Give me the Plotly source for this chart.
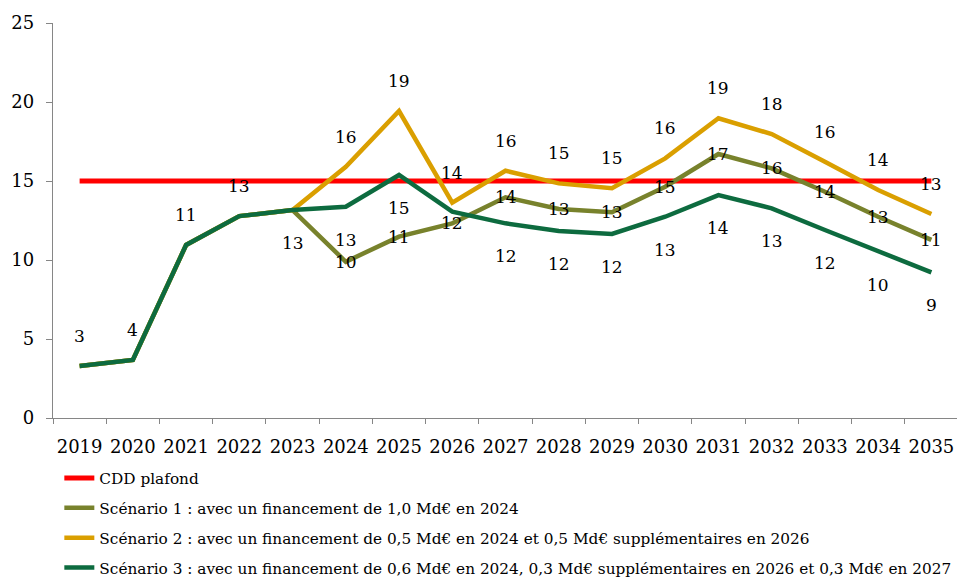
import plotly.graph_objects as go

years = [str(y) for y in range(2019, 2036)]
plafond = [15] * 17
scen1 = [3.29, 3.67, 10.95, 12.78, 13.16, 9.89, 11.48, 12.32, 13.97, 13.23, 13.02, 14.64, 16.71, 15.80, 14.32, 12.74, 11.27]
scen2 = [3.29, 3.67, 10.95, 12.78, 13.16, 15.90, 19.43, 13.63, 15.65, 14.85, 14.54, 16.43, 18.97, 17.97, 16.22, 14.43, 12.91]
scen3 = [3.29, 3.67, 10.95, 12.78, 13.16, 13.37, 15.38, 13.06, 12.32, 11.83, 11.65, 12.74, 14.11, 13.27, 11.90, 10.53, 9.22]

labels1 = [None, None, None, None, None, "10", "11", "12", "14", "13", "13", "15", "17", "16", "14", "13", "11"]
labels2 = [None, None, None, None, None, "16", "19", "14", "16", "15", "15", "16", "19", "18", "16", "14", "13"]
labels3 = ["3", "4", "11", "13", "13", "13", "15", None, "12", "12", "12", "13", "14", "13", "12", "10", "9"]
shift3 = [30, 30, 30, 30, -33, -33, -33, 0, -33, -33, -33, -33, -33, -33, -33, -33, -33]

names = [
    "CDD plafond",
    "Scénario 1 : avec un financement de 1,0 Md€ en 2024",
    "Scénario 2 : avec un financement de 0,5 Md€ en 2024 et 0,5 Md€ supplémentaires en 2026",
    "Scénario 3 : avec un financement de 0,6 Md€ en 2024, 0,3 Md€ supplémentaires en 2026 et 0,3 Md€ en 2027",
]
colors = ["#FF0000", "#78822C", "#DA9F00", "#0D6B3F"]

FONT = "DejaVu Serif"
fig = go.Figure()
series = [plafond, scen1, scen2, scen3]
widths = [5, 4.5, 4.5, 4.5]
for i, (s, n, c) in enumerate(zip(series, names, colors)):
    fig.add_trace(go.Scatter(x=years, y=s, name=n, mode="lines",
                             line=dict(color=c, width=widths[i]),
                             legendgroup=str(i), legendrank=i + 1))

ann = []
for idx, (v, t) in enumerate(zip(scen1, labels1)):
    if t:
        ann.append(dict(x=idx, y=v, text=t, yshift=0))
for idx, (v, t) in enumerate(zip(scen2, labels2)):
    if t:
        ann.append(dict(x=idx, y=v, text=t, yshift=30))
for idx, (v, t, sh) in enumerate(zip(scen3, labels3, shift3)):
    if t:
        ann.append(dict(x=idx, y=v, text=t, yshift=sh))
for a in ann:
    a.update(showarrow=False, xref="x", yref="y", font=dict(family=FONT, size=17, color="black"))

# page body has an 8px margin, so the figure is sized 957x570
fig.update_layout(
    width=957, height=570,
    margin=dict(l=45, r=7, t=15, b=160, autoexpand=False),
    paper_bgcolor="white", plot_bgcolor="white",
    font=dict(family=FONT, color="black"),
    annotations=ann,
    showlegend=True,
    legend=dict(x=0.007, y=-0.11, xanchor="left", yanchor="top",
                orientation="v", font=dict(family=FONT, size=15.3, color="black"),
                tracegroupgap=7, bgcolor="rgba(0,0,0,0)"),
    xaxis=dict(type="category", range=[-0.5, 16.5], showline=True, linecolor="#868686",
               linewidth=1.3, ticks="outside", tickson="boundaries", ticklen=5,
               tickcolor="#868686", showgrid=False, zeroline=False, tickangle=0,
               automargin=False, ticklabelstandoff=12,
               tickfont=dict(family=FONT, size=18, color="black")),
    yaxis=dict(range=[0, 25], dtick=5, showline=True, linecolor="#868686", linewidth=1.3,
               ticks="outside", ticklen=6, tickcolor="#868686", showgrid=False,
               automargin=False,
               zeroline=False, tickfont=dict(family=FONT, size=18, color="black"),
               ticklabelstandoff=8),
)

fig.write_html("out.html")
